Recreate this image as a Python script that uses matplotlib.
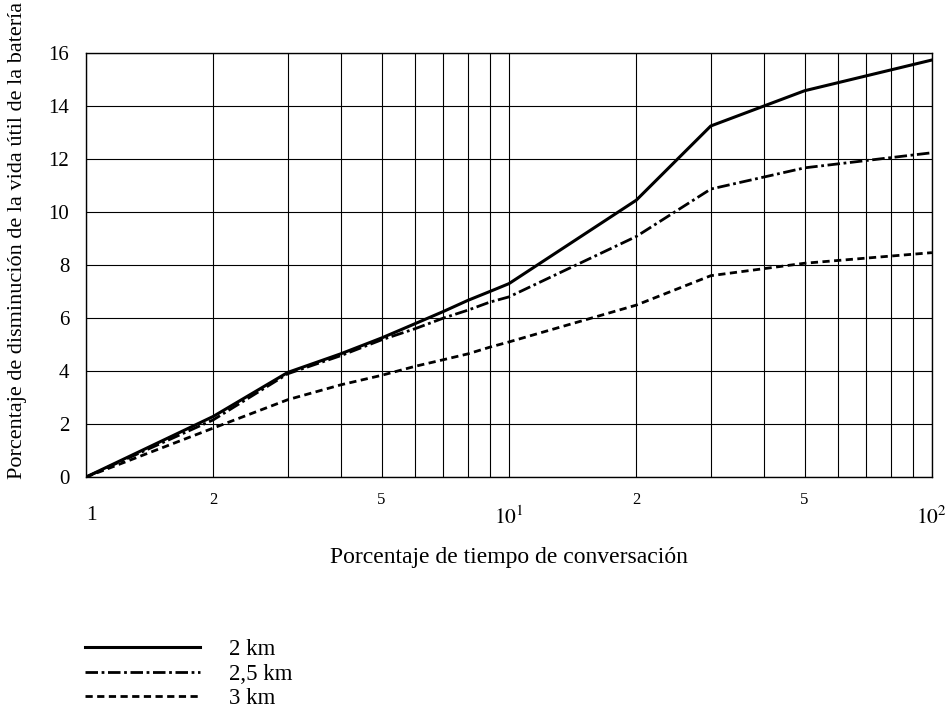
import matplotlib
matplotlib.use("Agg")
import matplotlib.pyplot as plt
from matplotlib.lines import Line2D

plt.rcParams["font.family"] = ["Liberation Serif", "DejaVu Serif"]
plt.rcParams["mathtext.fontset"] = "stix"

# conversation time (%) and battery life reduction (%)
tiempo = [1, 2, 3, 4, 5, 6, 7, 8, 9, 10, 20, 30, 50, 100]
km_2 = [0, 2.29, 3.95, 4.65, 5.25, 5.79, 6.25, 6.67, 7.0, 7.3, 10.45, 13.25, 14.58, 15.74]
km_25 = [0, 2.16, 3.9, 4.58, 5.18, 5.6, 6.0, 6.3, 6.6, 6.8, 9.08, 10.87, 11.67, 12.24]
km_3 = [0, 1.85, 2.92, 3.48, 3.84, 4.18, 4.43, 4.65, 4.9, 5.1, 6.49, 7.6, 8.07, 8.47]
series_labels = ["2 km", "2,5 km", "3 km"]

y_ticks = list(range(0, 17, 2))
major_x = [1, 10, 100]
major_x_labels = ["1", r"$10^1$", r"$10^2$"]
minor_x = [2, 3, 4, 5, 6, 7, 8, 9, 20, 30, 40, 50, 60, 70, 80, 90]
minor_x_labels = ["2", "", "", "5", "", "", "", "", "2", "", "", "5", "", "", "", ""]

fig = plt.figure(figsize=(9.53, 7.11), dpi=100)
ax = fig.add_axes([0.0902, 0.329, 0.8877, 0.5963])

styles = [
    dict(color="black", lw=2.2, linestyle="-"),
    dict(color="black", lw=2.0, linestyle=(0, (4.5, 1.3, 1.0, 1.3))),
    dict(color="black", lw=2.0, linestyle=(0, (2.6, 1.6))),
]
for ys, lab, st in zip([km_2, km_25, km_3], series_labels, styles):
    ax.plot(tiempo, ys, label=lab, **st)

ax.set_xscale("log")
ax.set_xlim(1, 100)
ax.set_ylim(0, 16)
ax.set_yticks(y_ticks)
ax.set_xticks(major_x, labels=major_x_labels)
ax.set_xticks(minor_x, labels=minor_x_labels, minor=True)
ax.grid(True, which="both", color="black", lw=0.8)
ax.set_axisbelow(True)
ax.tick_params(axis="both", which="both", length=0)
ax.tick_params(axis="y", labelsize=15, pad=12)
ax.tick_params(axis="x", which="major", labelsize=15.5, pad=21)
ax.tick_params(axis="x", which="minor", labelsize=12, pad=11)
ax.get_xticklabels()[0].set_horizontalalignment("left")
for sp in ax.spines.values():
    sp.set_linewidth(1.0)

fig.text(509 / 953, 1 - 557 / 711, "Porcentaje de tiempo de conversación",
         ha="center", va="center", fontsize=17)
fig.text(18 / 953, 1 - 240 / 711,
         "Porcentaje de disminución de la vida útil de la batería",
         ha="center", va="center", rotation=90, fontsize=16)

handles = [Line2D([], [], **st) for st in styles]
fig.legend(handles, series_labels, loc="upper left",
           bbox_to_anchor=(85 / 953, 1 - 639 / 711), frameon=False,
           fontsize=16.5, handlelength=5.0, handletextpad=1.3,
           labelspacing=0.15, borderpad=0.0, borderaxespad=0.0)

fig.savefig("out.png", dpi=100)
